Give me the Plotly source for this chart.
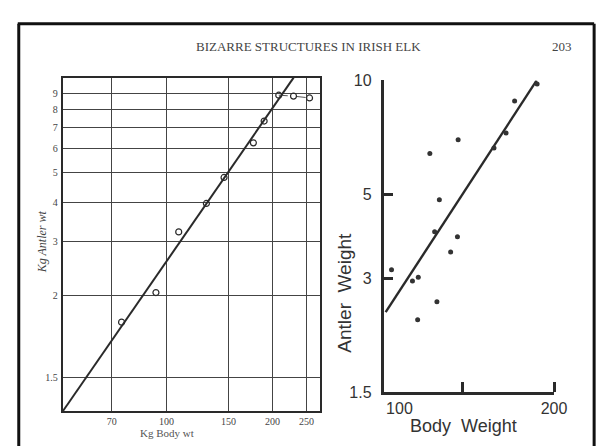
import plotly.graph_objects as go
import math

# ---------------- data: left panel (open circles, log-log grid) ----------------
left_body = [74.6, 93.4, 108.4, 129.9, 145.8, 176.6, 189.5]
left_antler = [1.645, 2.05, 3.22, 3.98, 4.83, 6.25, 7.35]
left_top_body = [208.5, 229.6, 255.0]
left_top_antler = [8.91, 8.85, 8.73]
left_fit_body = [50.8, 229.8]
left_fit_antler = [0.847, 10.16]
left_xticks = [70, 100, 150, 200, 250]
left_xlabels = ["70", "100", "150", "200", "250"]
left_yticks = [1.088, 2, 3, 4, 5, 6, 7, 8, 9]
left_ylabels = ["1.5", "2", "3", "4", "5", "6", "7", "8", "9"]

# ---------------- data: right panel (filled dots) ----------------
right_body = [185.4, 167.6, 161.3, 152.8, 130.1, 114.6, 119.6, 117.1, 129.7,
              125.8, 96.5, 106.0, 108.8, 118.3, 108.5]
right_antler = [9.79, 8.83, 7.26, 6.63, 6.97, 6.41, 4.84, 3.98, 3.86,
                3.52, 3.16, 2.95, 3.02, 2.60, 2.33]
right_fit_body = [94.0, 185.0]
right_fit_antler = [2.44, 10.0]
right_xticks = [100, 200]
right_xlabels = ["100", "200"]
right_xminor = [132.4, 200]
right_yticks = [1.5, 3, 5, 10]
right_ylabels = ["1.5", "3", "5", "10"]

W, H = 605, 447
def px(x):
    return x / W
def py(y):
    return 1 - y / H

INK = "#2a2a2a"
SERIF = "Liberation Serif"
SANS = "Liberation Sans"

fig = go.Figure()

# left panel
fig.add_trace(go.Scatter(x=left_fit_body, y=left_fit_antler, mode="lines",
                         line=dict(color=INK, width=2), xaxis="x", yaxis="y",
                         showlegend=False, hoverinfo="skip"))
fig.add_trace(go.Scatter(x=left_body, y=left_antler, mode="markers",
                         marker=dict(symbol="circle-open", size=6, color=INK,
                                     line=dict(width=1.2, color=INK)),
                         xaxis="x", yaxis="y", showlegend=False))
fig.add_trace(go.Scatter(x=left_top_body, y=left_top_antler, mode="lines+markers",
                         line=dict(color="#555", width=1, dash="dash"),
                         marker=dict(symbol="circle-open", size=6, color=INK,
                                     line=dict(width=1.2, color=INK)),
                         xaxis="x", yaxis="y", showlegend=False))

# right panel
fig.add_trace(go.Scatter(x=right_fit_body, y=right_fit_antler, mode="lines",
                         line=dict(color=INK, width=2.4), xaxis="x2", yaxis="y2",
                         showlegend=False, hoverinfo="skip"))
fig.add_trace(go.Scatter(x=right_body, y=right_antler, mode="markers",
                         marker=dict(symbol="circle", size=5, color="#333"),
                         xaxis="x2", yaxis="y2", showlegend=False))

fig.update_layout(
    width=W, height=H, autosize=False,
    margin=dict(l=0, r=0, t=0, b=0),
    paper_bgcolor="white", plot_bgcolor="white",
    xaxis=dict(type="log", domain=[px(56), px(319)],
               range=[math.log10(50.8), math.log10(273.3)],
               tickmode="array", tickvals=left_xticks, ticktext=left_xlabels,
               showgrid=True, gridcolor="#444", gridwidth=1.4,
               showline=True, linecolor=INK, linewidth=2, mirror=True,
               ticks="", zeroline=False,
               tickfont=dict(family=SERIF, size=10, color="#444"),
               ticklabelstandoff=0),
    yaxis=dict(type="log", domain=[py(411), py(64)],
               range=[math.log10(0.8466), math.log10(10.16)],
               tickmode="array", tickvals=left_yticks, ticktext=left_ylabels,
               showgrid=True, gridcolor="#444", gridwidth=1.4,
               showline=True, linecolor=INK, linewidth=2, mirror=True,
               ticks="", zeroline=False,
               tickfont=dict(family=SERIF, size=10, color="#444"),
               ticklabelstandoff=1),
    xaxis2=dict(type="log", domain=[px(384), px(558)], anchor="y2",
                range=[math.log10(93.2), math.log10(200)],
                tickmode="array", tickvals=right_xticks, ticktext=right_xlabels,
                showgrid=False, showline=True, linecolor=INK, linewidth=3,
                ticks="", zeroline=False,
                minor=dict(tickmode="array", tickvals=right_xminor, ticks="inside",
                           ticklen=10, tickwidth=2.5, tickcolor=INK, showgrid=False),
                tickfont=dict(family=SANS, size=16, color="#333"),
                ticklabelstandoff=0),
    yaxis2=dict(type="log", domain=[py(391), py(67)], anchor="x2",
                range=[math.log10(1.5), 1.0],
                tickmode="array", tickvals=right_yticks, ticktext=right_ylabels,
                showgrid=False, showline=True, linecolor=INK, linewidth=3,
                ticks="inside", ticklen=9, tickwidth=2.5, tickcolor=INK,
                zeroline=False,
                tickfont=dict(family=SANS, size=16, color="#333"),
                ticklabelstandoff=6),
)

ann = [
    dict(x=px(307), y=py(32), text="BIZARRE STRUCTURES IN IRISH ELK",
         font=dict(family=SERIF, size=13, color="#444")),
    dict(x=px(566), y=py(32), text="203",
         font=dict(family=SERIF, size=13, color="#444")),
    dict(x=px(35), y=py(235), text="<i>Kg Antler wt</i>", textangle=-90,
         font=dict(family=SERIF, size=12, color="#444")),
    dict(x=px(162), y=py(433), text="Kg Body wt",
         font=dict(family=SERIF, size=11, color="#555")),
    dict(x=px(343), y=py(288), text="Antler&nbsp;&nbsp;Weight", textangle=-90,
         font=dict(family=SANS, size=19, color="#333")),
    dict(x=px(465), y=py(426), text="Body&nbsp;&nbsp;Weight",
         font=dict(family=SANS, size=18, color="#333")),
]
for a in ann:
    a.update(xref="paper", yref="paper", showarrow=False,
             xanchor="center", yanchor="middle")
    fig.add_annotation(**a)

# page border of the scan
border = dict(color="#111", width=3)
fig.add_shape(type="line", xref="paper", yref="paper", x0=px(10), x1=px(599),
              y0=py(8), y1=py(8), line=border)
fig.add_shape(type="line", xref="paper", yref="paper", x0=px(11), x1=px(11),
              y0=py(8), y1=0, line=border)
fig.add_shape(type="line", xref="paper", yref="paper", x0=px(599), x1=px(599),
              y0=py(8), y1=0, line=border)

fig.write_html("out.html")
